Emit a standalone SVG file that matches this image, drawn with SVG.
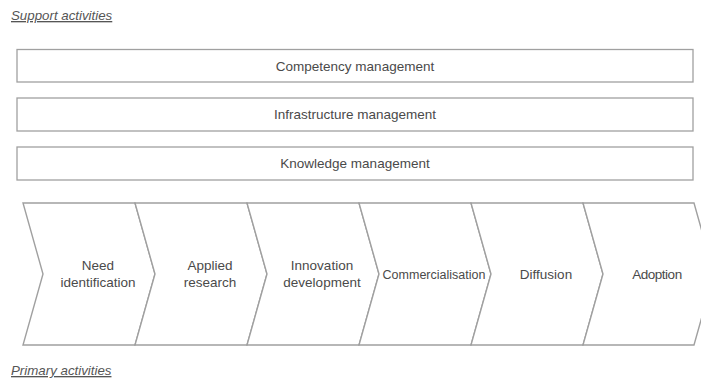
<svg xmlns="http://www.w3.org/2000/svg" width="701" height="380" viewBox="0 0 701 380">
<style>
.box{fill:#fff;stroke:#a0a0a0;stroke-width:1.3}
.chev{fill:#fff;stroke:#a0a0a0;stroke-width:1.4;stroke-linejoin:miter}
.t{font-family:"Liberation Sans",Arial,sans-serif;font-size:13.5px;fill:#4a4a4a;text-anchor:middle}
.h{font-family:"Liberation Sans",Arial,sans-serif;font-size:13.3px;font-style:italic;fill:#555;text-decoration:underline}
</style>
<rect width="701" height="380" fill="#fff"/>
<text class="h" x="11" y="20">Support activities</text>
<g id="competency"><rect class="box" x="17" y="49.5" width="676" height="32.5"/><text class="t" x="355" y="70.5">Competency management</text></g>
<g id="infrastructure"><rect class="box" x="17" y="98" width="676" height="33"/><text class="t" x="355" y="119">Infrastructure management</text></g>
<g id="knowledge"><rect class="box" x="17" y="147" width="676" height="33"/><text class="t" x="355" y="168">Knowledge management</text></g>
<g id="need"><polygon class="chev" points="23,203 135,203 155,274 135,345 23,345 43,274"/><text class="t" x="98" y="270">Need</text><text class="t" x="98" y="287">identification</text></g>
<g id="applied"><polygon class="chev" points="135,203 247,203 267,274 247,345 135,345 155,274"/><text class="t" x="210" y="270">Applied</text><text class="t" x="210" y="287">research</text></g>
<g id="innovation"><polygon class="chev" points="247,203 359,203 379,274 359,345 247,345 267,274"/><text class="t" x="322" y="270">Innovation</text><text class="t" x="322" y="287">development</text></g>
<g id="commercialisation"><polygon class="chev" points="359,203 471,203 491,274 471,345 359,345 379,274"/><text class="t" x="434" y="279" style="font-size:12.5px">Commercialisation</text></g>
<g id="diffusion"><polygon class="chev" points="471,203 583,203 603,274 583,345 471,345 491,274"/><text class="t" x="546" y="279">Diffusion</text></g>
<g id="adoption"><polygon class="chev" points="583,203 694,203 714,274 694,345 583,345 603,274"/><text class="t" x="657" y="279" style="letter-spacing:-0.5px">Adoption</text></g>
<g id="connectors"></g>
<text class="h" x="11" y="375">Primary activities</text>
</svg>
